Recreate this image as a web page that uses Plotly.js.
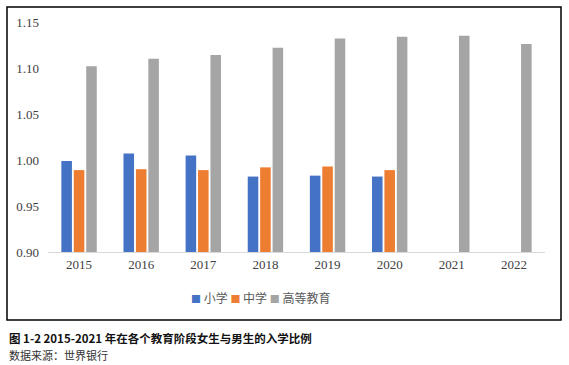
<!DOCTYPE html>
<html>
<head>
<meta charset="utf-8">
<script src="https://cdn.plot.ly/plotly-3.0.1.min.js"></script>
<style>html,body{margin:0;padding:0;background:#fff;}</style>
</head>
<body>
<div id="chart" style="width:569px;height:365px;"></div>
<script>
const years = ['2015','2016','2017','2018','2019','2020','2021','2022'];
const primary = [0.999, 1.007, 1.005, 0.982, 0.983, 0.982, null, null];
const secondary = [0.989, 0.990, 0.989, 0.992, 0.993, 0.989, null, null];
const tertiary = [1.102, 1.110, 1.114, 1.122, 1.132, 1.134, 1.135, 1.126];
const seriesNames = ['小学', '中学', '高等教育'];
const yTicks = [0.90, 0.95, 1.00, 1.05, 1.10, 1.15];
const captionTitle = '图 1-2 2015-2021 年在各个教育阶段女生与男生的入学比例';
const captionSource = '数据来源：世界银行';

const W = 569, H = 365;
const M = {l: 48, r: 24, t: 22, b: 113};
const pw = W - M.l - M.r, ph = H - M.t - M.b;
const px = x => (x - M.l) / pw;
const py = y => (H - M.b - y) / ph;

const serif = '"Liberation Serif", "DejaVu Serif", serif';
const cjk = '"Noto Sans CJK SC", sans-serif';
const colors = ['#4472C4', '#ED7D31', '#A5A5A5'];
const baseVal = 0.9;
const data = [primary, secondary, tertiary].map((v, i) => ({
  type: 'bar', x: years, y: v.map(d => d == null ? null : d - baseVal), base: baseVal,
  name: seriesNames[i], marker: {color: colors[i]}
}));

const legendText = seriesNames.map((n, i) =>
  '<span style="color:' + colors[i] + ';font-size:10px">■</span> ' + n).join(' ');

const layout = {
  width: W, height: H,
  margin: M,
  paper_bgcolor: '#fff', plot_bgcolor: '#fff',
  barmode: 'group', bargap: 0.4, bargroupgap: 0.15,
  font: {family: serif, size: 13, color: '#404040'},
  showlegend: false,
  xaxis: {type: 'category', showgrid: false, showline: true, linecolor: '#d9d9d9', linewidth: 1,
    ticks: '', tickfont: {family: serif, size: 13, color: '#404040'}, zeroline: false},
  yaxis: {range: [0.90, 1.15], tickvals: yTicks, ticktext: yTicks.map(v => v.toFixed(2)),
    showgrid: false, showline: false, zeroline: false, ticks: '', ticklabelstandoff: 8,
    tickfont: {family: serif, size: 13, color: '#404040'}},
  shapes: [{type: 'rect', xref: 'paper', yref: 'paper',
    x0: px(7), x1: px(561), y0: py(7), y1: py(320),
    line: {color: '#000', width: 1.5}, fillcolor: 'rgba(0,0,0,0)'}],
  annotations: [
    {xref: 'paper', yref: 'paper', x: px(260), y: py(297), xanchor: 'center', yanchor: 'middle',
     text: legendText, showarrow: false,
     font: {family: cjk, size: 12, color: '#595959'}},
    {xref: 'paper', yref: 'paper', x: px(7), y: py(338), xanchor: 'left', yanchor: 'middle',
     text: '<b>' + captionTitle + '</b>', showarrow: false,
     font: {family: cjk, size: 11.5, color: '#111'}},
    {xref: 'paper', yref: 'paper', x: px(7), y: py(355), xanchor: 'left', yanchor: 'middle',
     text: captionSource, showarrow: false,
     font: {family: cjk, size: 11, color: '#333'}}
  ]
};
Plotly.newPlot('chart', data, layout, {displayModeBar: false, staticPlot: true});
</script>
</body>
</html>
